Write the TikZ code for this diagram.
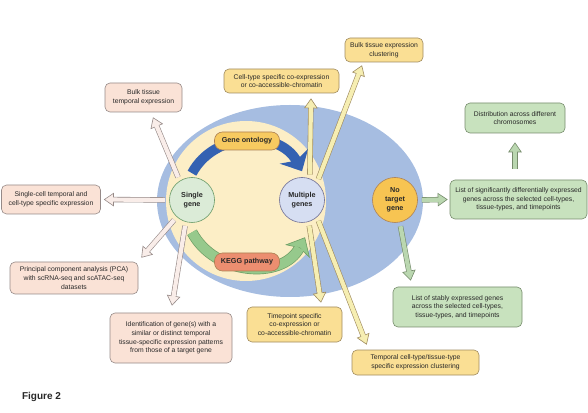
\documentclass[tikz,border=0pt]{standalone}
\usepackage{fontspec}
\setmainfont{Liberation Sans}
\usepackage{tikz}
\usetikzlibrary{positioning, arrows.meta}
\definecolor{OuterBlue}{RGB}{166, 189, 225}
\definecolor{InnerCream}{RGB}{252, 238, 198}
\definecolor{TextGray}{RGB}{40, 40, 40}
\definecolor{SingleFill}{RGB}{219, 235, 215}
\definecolor{MultiFill}{RGB}{214, 222, 242}
\definecolor{NoneFill}{RGB}{247, 196, 82}
\definecolor{OntoFill}{RGB}{247, 202, 96}
\definecolor{KeggFill}{RGB}{236, 142, 112}
\definecolor{BandBlue}{RGB}{52, 98, 178}
\definecolor{BandGreen}{RGB}{150, 201, 140}
\definecolor{BandGreenLine}{RGB}{110, 158, 100}
\definecolor{PinkFill}{RGB}{250, 226, 214}
\definecolor{PinkLine}{RGB}{150, 138, 136}
\definecolor{PinkArrow}{RGB}{249, 237, 233}
\definecolor{YellowFill}{RGB}{250, 223, 148}
\definecolor{YellowLine}{RGB}{160, 140, 96}
\definecolor{YellowArrow}{RGB}{246, 238, 178}
\definecolor{GreenFill}{RGB}{200, 226, 190}
\definecolor{GreenLine}{RGB}{118, 140, 108}
\definecolor{GreenArrow}{RGB}{186, 215, 176}

\begin{document}
\begin{tikzpicture}[
        x=1pt, y=1pt,
        box/.style={
          rectangle,
          rounded corners=5pt,
          line width=0.6pt,
          align=center,
          inner sep=2pt,
          text=TextGray,
          font=\fontsize{6.8}{8.7}\selectfont
        },
        pinkbox/.style={box, draw=PinkLine, fill=PinkFill},
        yellowbox/.style={box, draw=YellowLine, fill=YellowFill},
        greenbox/.style={box, draw=GreenLine, fill=GreenFill},
        gene/.style={
          circle,
          minimum size=45pt,
          inner sep=0pt,
          line width=0.6pt,
          align=center,
          text=TextGray,
          font=\fontsize{7.2}{8.8}\selectfont\bfseries
        },
        tag/.style={
          rectangle,
          rounded corners=8pt,
          minimum width=65pt,
          minimum height=18pt,
          line width=0.6pt,
          text=TextGray,
          font=\fontsize{7.2}{8.8}\selectfont\bfseries
        },
        blockarr/.style 2 args={
          draw=#1,
          line width=5.4pt,
          shorten <=4pt,
          -{Triangle[length=10pt, width=13.5pt, line width=0.6pt, color=#1, fill=#2]},
          postaction={draw=#2, line width=4.2pt, arrows=-, shorten >=8.5pt}
        },
        pinkarr/.style={blockarr={PinkLine}{PinkArrow}},
        yellowarr/.style={blockarr={YellowLine}{YellowArrow}},
        greenarr/.style={blockarr={GreenLine}{GreenArrow}}
      ]
        \useasboundingbox (0, 0) rectangle (588, 412);

        \fill[OuterBlue] (290, 211) ellipse [x radius=133, y radius=96];
        \fill[InnerCream] (246, 211) circle [radius=80];

        \node (single) at (192, 212) [gene, draw=gray!80!green, fill=SingleFill] {Single\\gene};
        \node (multi)  at (302, 212) [gene, draw=gray!85!blue, fill=MultiFill] {Multiple\\genes};
        \node (none)   at (395, 212) [gene, draw=brown!70!gray, fill=NoneFill] {No\\target\\gene};

        \draw[BandBlue, line width=10pt, -{Stealth[length=17pt, width=32pt, inset=5pt]}]
          ([yshift=4pt]single.north) to[out=62, in=118, looseness=1.1] ([yshift=6pt]multi.north);
        \draw[BandGreenLine, line width=11pt, -{Stealth[length=16pt, width=28pt, inset=4pt, line width=0.6pt, color=BandGreenLine, fill=BandGreen]},
          postaction={draw=BandGreen, line width=9.6pt, arrows=-, shorten >=12pt}]
          ([yshift=-9.5pt]single.south) to[out=-62, in=-118, looseness=1.1] ([xshift=3pt, yshift=-14.5pt]multi.south);

        \node (onto) at (247, 271) [tag, draw=brown!70!gray, fill=OntoFill] {Gene ontology};
        \node (kegg) at (247, 150) [tag, draw=brown!70!gray, fill=KeggFill] {KEGG pathway};

        \node (bulkt)    at (143.5, 314.5) [pinkbox, minimum width=77pt, minimum height=29pt] {Bulk tissue\\temporal expression};
        \node (scell)    at (51, 212.5)    [pinkbox, minimum width=99pt, minimum height=29pt] {Single-cell temporal and\\cell-type specific expression};
        \node (pca)      at (74, 134)      [pinkbox, minimum width=128pt, minimum height=32pt] {Principal component analysis (PCA)\\with scRNA-seq and scATAC-seq\\datasets};
        \node (ident)    at (171, 74)      [pinkbox, minimum width=122pt, minimum height=50pt] {Identification of gene(s) with a\\similar or distinct temporal\\tissue-specific expression patterns\\from those of a target gene};

        \node (celltype) at (281.5, 331)   [yellowbox, minimum width=115pt, minimum height=24pt] {Cell-type specific co-expression\\or co-accessible-chromatin};
        \node (bulkc)    at (384, 362)     [yellowbox, minimum width=78pt, minimum height=24pt] {Bulk tissue expression\\clustering};
        \node (timep)    at (294.5, 87.5)  [yellowbox, minimum width=95pt, minimum height=35pt] {Timepoint specific\\co-expression or\\co-accessible-chromatin};
        \node (tempc)    at (415.5, 49.5)  [yellowbox, minimum width=127pt, minimum height=25pt] {Temporal cell-type/tissue-type\\specific expression clustering};

        \node (lsig)     at (518.5, 212.5) [greenbox, minimum width=137pt, minimum height=39pt] {List of significantly differentially expressed\\genes across the selected cell-types,\\tissue-types, and timepoints};
        \node (lstab)    at (457.5, 105)   [greenbox, minimum width=129pt, minimum height=40pt] {List of stably expressed genes\\across the selected cell-types,\\tissue-types, and timepoints};
        \node (distr)    at (515, 294)     [greenbox, minimum width=100pt, minimum height=30pt] {Distribution across different\\chromosomes};

        \node (fig) at (41.5, 15) [text=TextGray, font=\fontsize{10}{12}\selectfont\bfseries] {Figure 2};

        \draw[pinkarr] (single.123) -- ([xshift=9.5pt, yshift=-5pt]bulkt.south);
        \draw[pinkarr] (single.west) -- ([xshift=3pt]scell.east);
        \draw[pinkarr] (single.228) -- ([xshift=3pt, yshift=4pt]pca.north east);
        \draw[pinkarr] (single.254) -- ([xshift=1pt, yshift=7pt]ident.north);

        \draw[yellowarr] (multi.70) -- ([xshift=29.5pt, yshift=-5pt]celltype.south);
        \draw[yellowarr] (multi.49) -- ([xshift=-22pt, yshift=-3pt]bulkc.south);
        \draw[yellowarr] (multi.-73) -- ([xshift=26.5pt, yshift=4pt]timep.north);
        \draw[yellowarr] (multi.-49) -- ([xshift=15pt, yshift=5pt]tempc.north west);

        \draw[greenarr] (none.east) -- ([xshift=-2pt]lsig.west);
        \draw[greenarr] (none.-78) -- ([xshift=18pt, yshift=6pt]lstab.north west);
        \draw[greenarr, shorten <=11pt] ([xshift=-3.5pt]lsig.north) -- ([yshift=-9pt]distr.south);
      \end{tikzpicture}
\end{document}
